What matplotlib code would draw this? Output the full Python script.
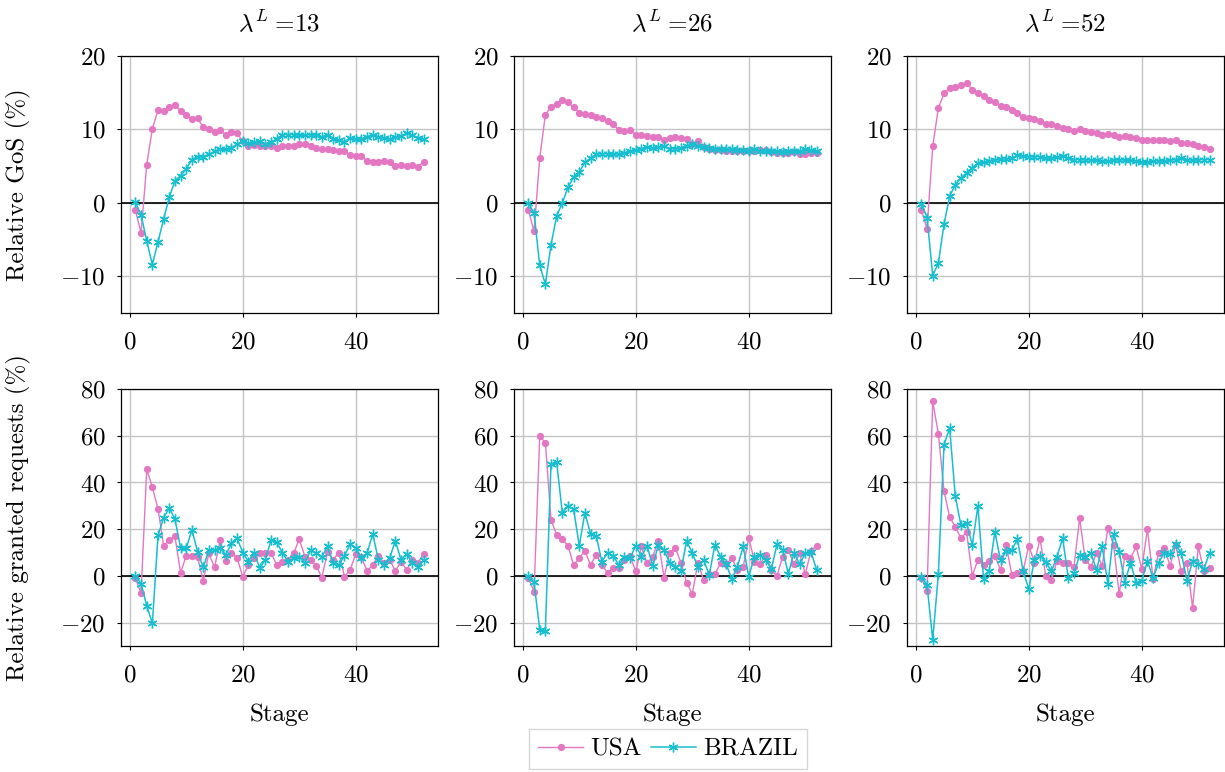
import matplotlib
matplotlib.use('Agg')
import matplotlib.pyplot as plt

plt.rcParams['font.family'] = ['cmr10', 'DejaVu Serif']
plt.rcParams['mathtext.fontset'] = 'cm'
plt.rcParams['axes.formatter.use_mathtext'] = True
plt.rcParams['font.size'] = 18

stages = list(range(1, 53))
lambdas = [13, 26, 52]

# Relative GoS (%)
usa_gos_13 = [-1.0, -4.1, 5.2, 10.1, 12.6, 12.5, 13.1, 13.3, 12.5, 12.0,
              11.4, 11.5, 10.3, 10.0, 9.7, 9.9, 9.3, 9.7, 9.5, 8.4,
              7.7, 7.9, 7.8, 7.7, 7.7, 7.5, 7.7, 7.8, 7.8, 8.0,
              8.0, 7.7, 7.5, 7.3, 7.4, 7.2, 7.0, 7.0, 6.5, 6.4,
              6.4, 5.7, 5.6, 5.6, 5.7, 5.5, 5.0, 5.1, 5.0, 5.1,
              4.9, 5.6]
bra_gos_13 = [0.1, -1.6, -5.2, -8.4, -5.3, -2.2, 0.8, 3.0, 3.7, 4.6,
              5.9, 6.3, 6.3, 6.6, 7.0, 7.3, 7.3, 7.5, 8.0, 8.4,
              8.1, 8.3, 8.4, 8.0, 8.3, 8.7, 9.3, 9.3, 9.3, 9.2,
              9.2, 9.3, 9.2, 9.0, 9.3, 8.7, 8.5, 8.3, 8.9, 8.7,
              8.7, 9.0, 9.3, 9.0, 8.9, 8.7, 9.0, 9.1, 9.5, 9.2,
              8.9, 8.7]
usa_gos_26 = [-1.0, -3.9, 6.1, 12.0, 13.1, 13.5, 14.0, 13.7, 13.0, 12.3,
              12.1, 11.9, 11.7, 11.5, 11.1, 10.7, 9.9, 9.8, 9.9, 9.3,
              9.2, 9.1, 9.0, 9.0, 8.6, 8.9, 9.0, 8.9, 8.7, 8.0,
              8.4, 7.6, 7.4, 7.2, 7.2, 7.1, 7.0, 7.1, 7.0, 7.0,
              7.0, 7.2, 7.2, 6.9, 6.8, 6.8, 6.8, 6.9, 6.7, 6.7,
              6.8, 6.8]
bra_gos_26 = [0.0, -1.4, -8.5, -11.1, -5.7, -1.8, 0.0, 2.1, 3.5, 4.2,
              5.5, 6.1, 6.6, 6.7, 6.7, 6.6, 6.7, 6.8, 7.0, 7.2,
              7.4, 7.6, 7.5, 7.6, 7.7, 7.4, 7.4, 7.5, 7.8, 8.0,
              7.7, 7.6, 7.5, 7.4, 7.3, 7.4, 7.3, 7.2, 7.2, 7.0,
              7.3, 7.0, 7.0, 7.1, 7.0, 6.9, 7.0, 7.1, 7.0, 7.3,
              7.2, 7.0]
usa_gos_52 = [-1.0, -3.5, 7.7, 12.9, 14.9, 15.6, 15.8, 16.0, 16.3, 15.4,
              15.0, 14.5, 14.0, 13.7, 13.2, 13.0, 12.7, 12.2, 11.7, 11.6,
              11.4, 11.2, 10.8, 10.7, 10.5, 10.2, 10.0, 9.8, 10.1, 9.8,
              9.6, 9.5, 9.3, 9.4, 9.3, 9.0, 9.1, 9.0, 8.9, 8.6,
              8.5, 8.5, 8.5, 8.5, 8.4, 8.5, 8.2, 8.1, 8.0, 7.8,
              7.6, 7.4]
bra_gos_52 = [-0.1, -2.0, -9.9, -8.2, -2.9, 0.9, 2.5, 3.4, 4.1, 4.8,
              5.4, 5.5, 5.7, 5.9, 6.0, 6.0, 6.1, 6.5, 6.4, 6.3,
              6.3, 6.3, 6.1, 6.1, 6.2, 6.4, 6.1, 5.9, 5.9, 5.9,
              5.8, 5.8, 5.7, 5.7, 5.8, 5.9, 5.8, 5.8, 5.7, 5.5,
              5.5, 5.7, 5.7, 5.7, 5.8, 5.9, 6.1, 5.9, 5.8, 5.9,
              5.9, 5.9]

# Relative granted requests (%)
usa_req_13 = [-1.0, -7.4, 45.7, 37.9, 28.7, 12.9, 15.4, 16.9, 1.4, 8.7,
              8.6, 7.9, -2.0, 9.7, 3.6, 15.3, 6.4, 10.0, 7.6, -0.3,
              4.7, 7.6, 9.7, 9.7, 10.0, 4.7, 6.0, 6.9, 9.7, 15.7,
              8.3, 6.9, 4.3, -0.7, 10.4, 6.9, 10.0, -0.3, 2.6, 9.4,
              8.0, 2.1, 4.7, 8.6, 5.4, 6.9, 2.1, 6.1, 2.6, 6.9,
              5.7, 9.3]
bra_req_13 = [0.0, -3.4, -12.7, -20.3, 17.3, 25.0, 29.0, 24.3, 11.9, 11.9,
              19.7, 10.4, 3.6, 11.1, 11.1, 11.9, 9.0, 14.0, 16.1, 10.0,
              6.1, 10.0, 3.3, 6.9, 15.4, 14.3, 10.0, 6.1, 7.6, 8.3,
              5.4, 11.1, 9.7, 8.3, 12.6, 5.4, 4.7, 8.6, 13.6, 11.9,
              7.6, 9.7, 18.0, 6.9, 4.7, 7.6, 15.1, 6.9, 9.4, 5.7,
              4.0, 6.9]
usa_req_26 = [-1.0, -6.7, 59.7, 57.1, 24.0, 17.6, 15.9, 12.9, 4.7, 7.6,
              10.7, 4.7, 9.0, 4.7, 1.4, 3.3, 3.3, 6.9, 8.6, 1.9,
              12.6, 5.4, 8.3, 15.1, -0.7, 9.7, 11.9, 5.7, -2.9, -7.7,
              5.7, -1.7, 0.7, 0.7, 5.4, 5.0, 7.6, 2.6, 3.7, 16.4,
              6.1, 5.0, 9.0, 2.6, 0.0, 8.3, 11.1, 5.0, 9.7, 0.7,
              10.7, 13.0]
bra_req_26 = [0.0, -2.7, -23.0, -23.4, 47.9, 48.7, 26.9, 30.0, 28.6, 12.9,
              27.1, 17.9, 17.1, 6.1, 10.0, 8.6, 4.7, 8.3, 7.6, 13.0,
              8.3, 12.9, 4.3, 13.3, 11.1, 5.7, 4.0, 2.3, 15.0, 9.7,
              4.0, 6.9, 0.4, 13.3, 8.3, 5.0, -1.3, 4.0, 12.6, -0.3,
              8.3, 9.0, 6.9, 2.9, 13.7, 11.1, 0.9, 10.0, 5.0, 9.7,
              10.4, 2.6]
usa_req_52 = [-1.0, -6.3, 74.7, 60.9, 36.4, 25.1, 21.1, 16.1, 18.7, 0.0,
              6.9, 4.7, 6.4, 8.6, 2.6, 13.3, 0.4, 1.4, 2.1, 13.0,
              5.7, 15.9, 0.0, -1.7, 6.4, 5.4, 5.7, 4.0, 24.7, 6.9,
              4.0, 9.7, 4.3, 20.4, 13.3, -7.7, 8.6, 7.6, 12.6, 3.0,
              20.1, -1.4, 10.0, 11.9, 4.3, 13.3, 1.9, 5.4, -13.6, 12.6,
              1.9, 3.3]
bra_req_52 = [-0.3, -3.9, -27.4, 0.7, 56.1, 63.3, 34.0, 21.6, 22.6, 13.3,
              30.0, -1.4, 2.3, 18.7, 6.9, 10.7, 11.1, 15.7, 2.1, -5.7,
              6.9, 8.6, 6.1, 1.9, 8.3, 16.1, -1.0, 1.1, 9.0, 8.3,
              9.7, 2.6, 12.6, -3.4, 17.9, 10.4, -2.9, 5.7, -2.9, -2.1,
              6.4, -1.0, 5.7, 10.0, 9.3, 13.6, 9.7, -2.1, 6.4, 5.0,
              2.9, 10.0]

usa_gos = [usa_gos_13, usa_gos_26, usa_gos_52]
bra_gos = [bra_gos_13, bra_gos_26, bra_gos_52]
usa_req = [usa_req_13, usa_req_26, usa_req_52]
bra_req = [bra_req_13, bra_req_26, bra_req_52]

pink = '#e377c2'
cyan = '#17becf'

W, H = 1225, 772
fig = plt.figure(figsize=(W / 100, H / 100), dpi=100)

lefts = [121, 514, 907]
tops = [56, 389]
aw, ah = 317, 257

def style(ax, ylim, yticks):
    ax.set_xlim(-1.55, 54.55)
    ax.set_ylim(*ylim)
    ax.set_xticks([0, 20, 40])
    ax.set_yticks(yticks)
    ax.grid(True, color='#c4c4c4', linewidth=1.0)
    ax.set_axisbelow(True)
    ax.axhline(0, color='black', linewidth=1.2, zorder=1.5)
    ax.tick_params(direction='out', length=3, width=0.8,
                   top=False, right=False)
    ax.tick_params(axis='x', pad=10.5)
    ax.tick_params(axis='y', pad=8)
    for s in ax.spines.values():
        s.set_linewidth(0.9)

for row in range(2):
    for col in range(3):
        ax = fig.add_axes([lefts[col] / W, 1 - (tops[row] + ah) / H, aw / W, ah / H])
        if row == 0:
            u, b = usa_gos[col], bra_gos[col]
            style(ax, (-15, 20), [-10, 0, 10, 20])
            ax.set_title(r'$\lambda^L\;$=' + str(lambdas[col]), pad=17, fontsize=18)
        else:
            u, b = usa_req[col], bra_req[col]
            style(ax, (-30, 80), [-20, 0, 20, 40, 60, 80])
            ax.set_xlabel('Stage', labelpad=12)
        l1, = ax.plot(stages, u, color=pink, marker='o', markersize=4.2,
                      linewidth=1.0, label='USA', zorder=3)
        l2, = ax.plot(stages, b, color=cyan, marker=(6, 2, 0), markersize=7,
                      markeredgewidth=1.0, linewidth=1.1, label='BRAZIL', zorder=3)
        if col == 0:
            if row == 0:
                ax.set_ylabel('Relative GoS (%)')
            else:
                ax.set_ylabel('Relative granted requests (%)')
            ax.yaxis.set_label_coords(-0.285, 0.5)

fig.legend(handles=[l1, l2], loc='upper center', ncol=2, numpoints=1,
           bbox_to_anchor=(668 / W, 1 - 729 / H), frameon=True, fancybox=False,
           edgecolor='#cccccc', handlelength=1.8, columnspacing=0.35,
           handletextpad=0.3, borderpad=0.35, borderaxespad=0, fontsize=18)

fig.savefig('out.png', dpi=100)
